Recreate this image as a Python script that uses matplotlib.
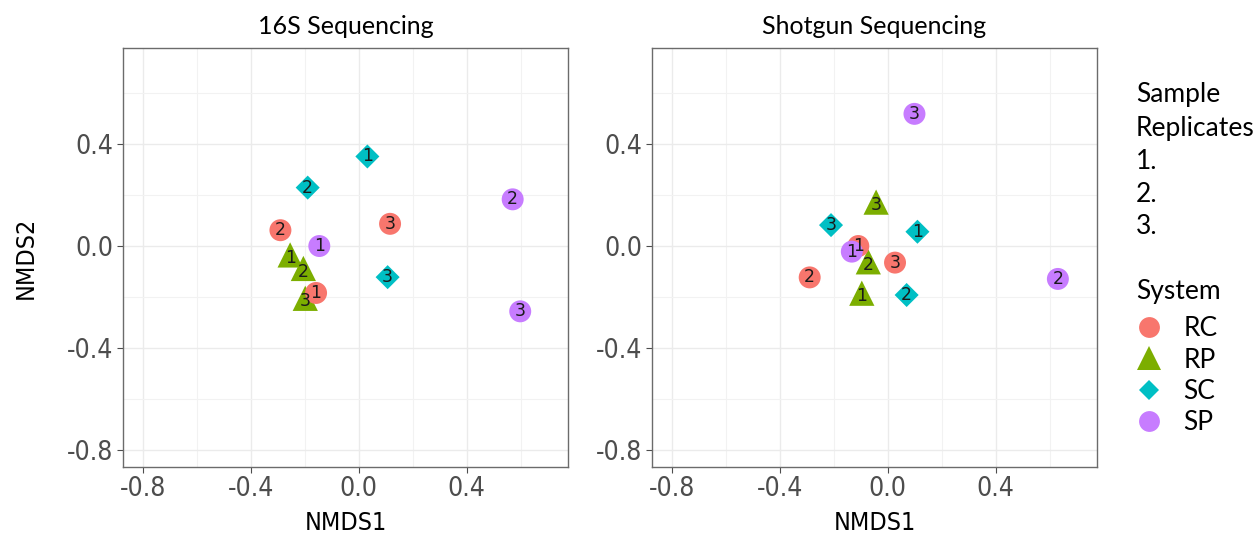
import matplotlib
matplotlib.use("Agg")
import matplotlib.pyplot as plt
from matplotlib.lines import Line2D
from matplotlib.ticker import MultipleLocator

# ---- data ----
systems = ["RC", "RP", "SC", "SP"]
sys_colors = ["#F8766D", "#7CAE00", "#00BFC4", "#C77CFF"]
sys_markers = ["o", "^", "D", "o"]
rep_labels = ["1.", "2.", "3."]

# 16S sequencing
s16_system = ["RC", "RC", "RC", "RP", "RP", "RP", "SC", "SC", "SC", "SP", "SP", "SP"]
s16_rep = [1, 2, 3, 1, 2, 3, 1, 2, 3, 1, 2, 3]
s16_x = [-0.158, -0.290, 0.116, -0.254, -0.205, -0.198, 0.032, -0.189, 0.107, -0.146, 0.570, 0.598]
s16_y = [-0.184, 0.062, 0.087, -0.035, -0.088, -0.205, 0.351, 0.229, -0.122, 0.000, 0.183, -0.256]

# Shotgun sequencing
sg_system = ["RC", "RC", "RC", "RP", "RP", "RP", "SC", "SC", "SC", "SP", "SP", "SP"]
sg_rep = [1, 2, 3, 1, 2, 3, 1, 2, 3, 1, 2, 3]
sg_x = [-0.109, -0.289, 0.027, -0.096, -0.072, -0.043, 0.110, 0.070, -0.210, -0.133, 0.630, 0.099]
sg_y = [0.000, -0.123, -0.065, -0.185, -0.062, 0.172, 0.056, -0.192, 0.082, -0.022, -0.129, 0.518]

titles = ["16S Sequencing", "Shotgun Sequencing"]
ticks = [-0.8, -0.4, 0.0, 0.4]

W, H = 1257, 537
fig = plt.figure(figsize=(W / 100, H / 100), dpi=100)

tick_font = "DejaVu Sans"
label_font = "Lato"

sizes = {"o": 250, "^": 330, "D": 150}

def panel(left_px, xs, ys, syss, reps, title):
    ax = fig.add_axes([left_px / W, 1 - 466.7 / H, 445.6 / W, 418.4 / H])
    ax.set_xlim(-0.874, 0.776)
    ax.set_ylim(-0.865, 0.775)
    ax.xaxis.set_minor_locator(MultipleLocator(0.2))
    ax.yaxis.set_minor_locator(MultipleLocator(0.2))
    ax.set_xticks(ticks)
    ax.set_yticks(ticks)
    ax.set_xticklabels([f"{t:.1f}" for t in ticks])
    ax.set_yticklabels([f"{t:.1f}" for t in ticks])
    ax.grid(which="major", color="#EBEBEB", lw=1.0)
    ax.grid(which="minor", color="#F2F2F2", lw=0.8)
    ax.set_axisbelow(True)
    for sp in ax.spines.values():
        sp.set_color("#6b6b6b")
        sp.set_linewidth(1.0)
    ax.tick_params(which="major", length=4, width=0.8, color="#4d4d4d",
                   labelsize=19, labelcolor="#4d4d4d", pad=3)
    ax.tick_params(which="minor", length=0)
    for lab in ax.get_xticklabels() + ax.get_yticklabels():
        lab.set_fontfamily(tick_font)
        lab.set_fontstretch("condensed")
    order = ["RP", "RC", "SC", "SP"]
    for s in order:
        i = systems.index(s)
        m = sys_markers[i]
        px = [x for x, ss in zip(xs, syss) if ss == s]
        py = [y for y, ss in zip(ys, syss) if ss == s]
        ax.scatter(px, py, s=sizes[m], marker=m, color=sys_colors[i],
                   edgecolors="none", zorder=3)
    for x, y, r, s in zip(xs, ys, reps, syss):
        dy = -0.012 if s == "RP" else 0.0
        ax.text(x, y + dy, str(r), ha="center", va="center", fontsize=12.5,
                color="#1a1a1a", fontfamily=tick_font, zorder=4)
    ax.set_title(title, fontsize=18, fontfamily=label_font, pad=10, color="black")
    ax.set_xlabel("NMDS1", fontsize=18, fontfamily=tick_font,
                  fontstretch="condensed")
    ax.xaxis.set_label_coords(0.5, (466.7 - 511) / 418.4)
    return ax

ax1 = panel(122.7, s16_x, s16_y, s16_system, s16_rep, titles[0])
ax1.set_ylabel("NMDS2", fontsize=18, fontfamily=tick_font,
               fontstretch="condensed")
ax1.yaxis.set_label_coords((38 - 122.7) / 445.6, 0.5)
ax2 = panel(651.7, sg_x, sg_y, sg_system, sg_rep, titles[1])

# Legend: sample replicates
rep_handles = [Line2D([], [], linestyle="none", marker=None) for _ in rep_labels]
leg1 = fig.legend(rep_handles, rep_labels, title="Sample\nReplicates",
                  loc="upper left", bbox_to_anchor=(1112 / W, 1 - 58 / H),
                  frameon=False, handlelength=0, handletextpad=0,
                  labelspacing=0.3, prop={"family": label_font, "size": 19},
                  title_fontproperties={"family": label_font, "size": 19},
                  alignment="left")
leg1.get_title().set_linespacing(1.45)

sys_handles = []
msize = {"o": 15, "^": 17, "D": 10}
for c, m in zip(sys_colors, sys_markers):
    sys_handles.append(Line2D([], [], linestyle="none", marker=m, color=c,
                              markersize=msize[m], markeredgewidth=0))
leg2 = fig.legend(sys_handles, systems, title="System",
                  loc="upper left", bbox_to_anchor=(1112 / W, 1 - 255 / H),
                  frameon=False, handlelength=1.0, handletextpad=0.8,
                  labelspacing=0.24, prop={"family": label_font, "size": 19},
                  title_fontproperties={"family": label_font, "size": 19},
                  alignment="left")
leg2._legend_box.sep = 9

fig.savefig("out.png", dpi=100)
